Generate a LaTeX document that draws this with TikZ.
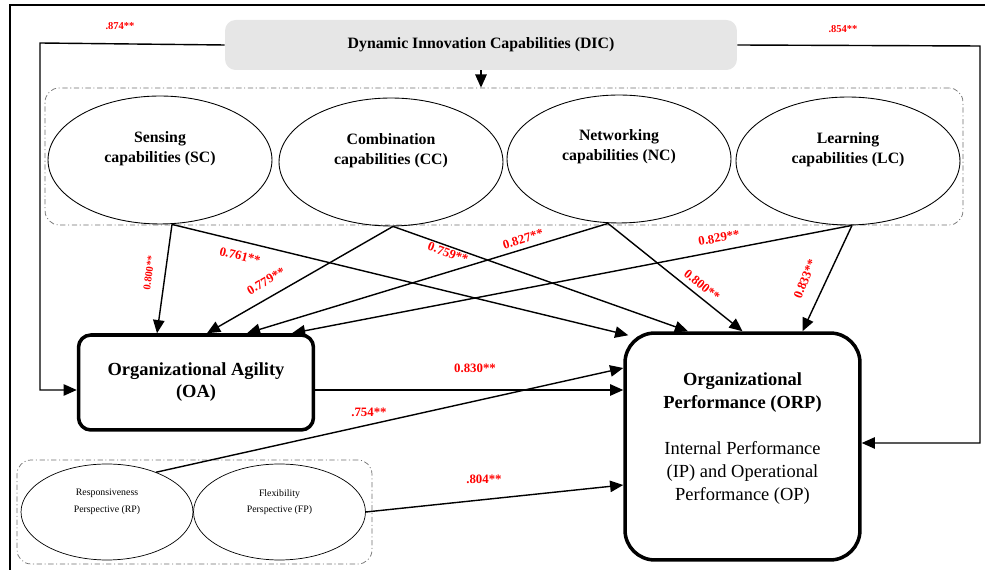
\documentclass[tikz,border=0pt]{standalone}
\usepackage{fontspec}
\setmainfont{Liberation Serif}
\usepackage{tikz}
\usetikzlibrary{arrows.meta,calc,positioning,shapes.geometric}
\definecolor{dicgray}{HTML}{E6E6E6}
\definecolor{grpgray}{HTML}{6E6E6E}
\definecolor{coefred}{HTML}{FF0000}

\begin{document}
\begin{tikzpicture}[x=0.02cm, y=-0.02cm,
  capell/.style={draw, ellipse, line width=0.5pt, inner sep=0pt, minimum width=4.48cm, minimum height=2.56cm},
  captxt/.style={align=center, font=\fontsize{9}{11.3}\selectfont\bfseries},
  perell/.style={draw, ellipse, line width=0.4pt, inner sep=0pt, minimum width=3.44cm, minimum height=1.92cm},
  pertxt/.style={align=center, font=\fontsize{5.6}{9.5}\selectfont},
  group/.style={draw=grpgray, line width=0.4pt, rounded corners=8pt, dash pattern=on 3pt off 1.5pt on 0.6pt off 1.5pt},
  mainbox/.style={draw, line width=2pt, fill=white, align=center},
  conn/.style={-{Triangle[length=7.5pt,width=6.5pt]}, line width=0.8pt},
  coef/.style={text=coefred, font=\fontsize{7.3}{8}\selectfont\bfseries, inner sep=1pt},
  smallcoef/.style={coef, font=\fontsize{6}{7}\selectfont\bfseries}
]
  \useasboundingbox (0,0) rectangle (985,570);

  % Frame
  \draw[line width=1.6pt] (10,580) -- (10,5) -- (995,5);

  % DIC and its four dimensions
  \node[fill=dicgray, rounded corners=6pt, minimum width=10.24cm, minimum height=1cm,
        font=\fontsize{9}{11}\selectfont\bfseries] (dic) at (481,45) {Dynamic Innovation Capabilities (DIC)};
  \node[group, minimum width=18.36cm, minimum height=2.74cm] (dicgrp) at (504,156.5) {};

  \node[capell] (sc) at (160,160) {};
  \node[capell] (cc) at (391,162) {};
  \node[capell] (nc) at (619,159) {};
  \node[capell] (lc) at (848,161) {};
  \node[captxt] (sc-txt) at ([yshift=0.22cm]sc.center) {Sensing\\capabilities (SC)};
  \node[captxt] (cc-txt) at ([yshift=0.22cm]cc.center) {Combination\\capabilities (CC)};
  \node[captxt] (nc-txt) at ([yshift=0.24cm]nc.center) {Networking\\capabilities (NC)};
  \node[captxt] (lc-txt) at ([yshift=0.22cm]lc.center) {Learning\\capabilities (LC)};

  % Agility and performance
  \node[mainbox, rounded corners=7pt, minimum width=4.7cm, minimum height=1.9cm,
        font=\fontsize{10.5}{12.5}\selectfont\bfseries] (oa) at (196,382.5) {Organizational Agility\\(OA)};
  \node[mainbox, rounded corners=17pt, minimum width=4.7cm, minimum height=4.54cm] (orp) at (742.5,446.5) {};
  \node[align=center, font=\fontsize{10.5}{13}\selectfont] (orp-txt) at ([yshift=0.16cm]orp.center)
    {\textbf{Organizational}\\\textbf{Performance (ORP)}\\[13pt]Internal Performance\\(IP) and Operational\\Performance (OP)};

  % Agility perspectives
  \node[group, minimum width=7.1cm, minimum height=2.08cm] (pergrp) at (194.5,512) {};
  \node[perell] (rp) at (107,512) {};
  \node[perell] (fp) at (279.5,512) {};
  \node[pertxt] (rp-txt) at ([yshift=0.2cm]rp.center) {Responsiveness\\Perspective (RP)};
  \node[pertxt] (fp-txt) at ([yshift=0.2cm]fp.center) {Flexibility\\Perspective (FP)};

  % Arrows from DIC
  \coordinate (dic-l) at (40,43);
  \coordinate (dic-r) at (980,46);
  \draw[conn] (dic.south) -- (dic.south |- dicgrp.north);
  \draw[conn] (dic.west) -- (dic-l) |- ([yshift=-0.15cm]oa.west);
  \draw[conn] (dic.east) -- (dic-r) |- ([yshift=0.07cm]orp.east);

  % Dimensions to OA
  \draw[conn] ([xshift=0.24cm]sc.south) -- ([xshift=-0.78cm]oa.north);
  \draw[conn] ([xshift=0.04cm]cc.south) -- ([xshift=0.22cm]oa.north);
  \draw[conn] ([xshift=-0.22cm]nc.south) -- ([xshift=1.02cm]oa.north);
  \draw[conn] ([xshift=0.08cm]lc.south) -- ([xshift=1.92cm]oa.north);

  % Dimensions to ORP
  \draw[conn] ([xshift=0.24cm]sc.south) -- ([shift={(0.1cm,-0.08cm)}]orp.north west);
  \draw[conn] ([xshift=0.04cm]cc.south) -- ([xshift=-1.09cm]orp.north);
  \draw[conn] ([xshift=-0.22cm]nc.south) -- (orp.north);
  \draw[conn] ([xshift=0.08cm]lc.south) -- ([xshift=1.2cm]orp.north);

  % OA and perspectives to ORP
  \draw[conn] ([yshift=-0.15cm]oa.east) -- ([yshift=-0.15cm]oa.east -| orp.west);
  \draw[conn] (rp.39) -- ([yshift=1.57cm]orp.west);
  \draw[conn] (fp.east) -- ([yshift=-0.77cm]orp.west);

  % Coefficients
  \node[smallcoef] (c-dic-oa) at (120,26) {.874**};
  \node[smallcoef] (c-dic-orp) at (843,29) {.854**};
  \node[smallcoef, rotate=82] (c-sc-oa) at (149,273) {0.800**};
  \node[coef, rotate=-14] (c-sc-orp) at (240,256) {0.761**};
  \node[coef, rotate=30] (c-cc-oa) at (266,281) {0.779**};
  \node[coef, rotate=-20] (c-cc-orp) at (448,253) {0.759**};
  \node[coef, rotate=17] (c-nc-oa) at (523,239) {0.827**};
  \node[coef, rotate=-39] (c-nc-orp) at (702,285) {0.800**};
  \node[coef, rotate=10] (c-lc-oa) at (719,238) {0.829**};
  \node[coef, rotate=68] (c-lc-orp) at (805,279) {0.833**};
  \node[coef] (c-oa-orp) at (475,368) {0.830**};
  \node[coef] (c-rp-orp) at (369,412) {.754**};
  \node[coef] (c-fp-orp) at (484,479) {.804**};
\end{tikzpicture}
\end{document}
